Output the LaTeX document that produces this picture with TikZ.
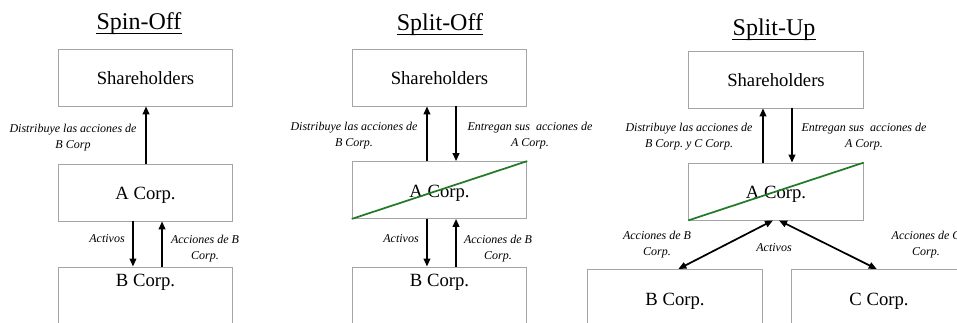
\documentclass[tikz,border=0pt]{standalone}
\usepackage{fontspec}
\setmainfont{Liberation Serif}
\usepackage{tikz}
\usetikzlibrary{arrows.meta, calc}
\definecolor{CutGreen}{RGB}{34,122,38}
\definecolor{BoxGray}{RGB}{165,165,165}
\frenchspacing

\begin{document}
\begin{tikzpicture}[x=0.75pt, y=-0.75pt,
    box/.style={draw=BoxGray, line width=0.6pt, minimum width=131pt,
                minimum height=42.75pt, inner sep=0pt, text height=12pt,
                text depth=1pt, font=\fontsize{14}{16}\selectfont},
    lowbox/.style={box, text depth=25.5pt},
    ttl/.style={inner sep=0pt, anchor=base, font=\fontsize{18}{20}\selectfont},
    lbl/.style={inner sep=0pt, align=center,
                font=\fontsize{9}{12}\selectfont\itshape},
    arr/.style={-{Triangle[length=6pt, width=5pt]}, line width=1.3pt},
    darr/.style={{Triangle[length=6pt, width=5pt]}-{Triangle[length=6pt, width=5pt]},
                 line width=1.3pt},
    cross/.style={CutGreen, line width=1.3pt}
  ]
  \useasboundingbox (0,0) rectangle (957,322);
  \clip (0,0) rectangle (957,322);

  % Titles
  \foreach \x/\y/\name/\txt in {139/29/tSpin/Spin-Off,
                                440/30/tOff/Split-Off,
                                774/35/tUp/Split-Up} {
    \node[ttl] (\name) at (\x,\y) {\txt};
    \draw[line width=0.75pt] ([yshift=-3pt]\name.base west)
                           -- ([yshift=-3pt]\name.base east);
  }

  % Spin-Off
  \node[box] (shS) at (145.5,77.5) {Shareholders};
  \node[box] (aS) at (145.5,192.5) {A Corp.};
  \node[lowbox, anchor=north] (bS) at (145.5,266.5) {B Corp.};
  \draw[arr] ([xshift=0.4pt]aS.north) -- ([xshift=0.4pt]shS.south);
  \draw[arr] ([xshift=-9.4pt]aS.south) -- ([xshift=-9.4pt]bS.north);
  \draw[arr] ([xshift=12.4pt]bS.north) -- ([xshift=12.4pt]aS.south);
  \node[lbl] (distS) at (73,138) {Distribuye las acciones de\\B Corp};
  \node[lbl] (actS) at (107,239) {Activos};
  \node[lbl] (accS) at (205,249) {Acciones de B\\Corp.};

  % Split-Off
  \node[box] (shO) at (439.5,77.5) {Shareholders};
  \node[box] (aO) at (439.5,190) {A Corp.};
  \node[lowbox, anchor=north] (bO) at (439.5,266.5) {B Corp.};
  \draw[cross] (aO.south west) -- (aO.north east);
  \draw[arr] ([xshift=-9.4pt]aO.north) -- ([xshift=-9.4pt]shO.south);
  \draw[arr] ([xshift=12.4pt]shO.south) -- ([xshift=12.4pt]aO.north);
  \draw[arr] ([xshift=-9.4pt]aO.south) -- ([xshift=-9.4pt]bO.north);
  \draw[arr] ([xshift=12.4pt]bO.north) -- ([xshift=12.4pt]aO.south);
  \node[lbl] (distO) at (354,136) {Distribuye las acciones de\\B Corp.};
  \node[lbl] (entO) at (530,136) {Entregan sus\ \ acciones de\\A Corp.};
  \node[lbl] (actO) at (401,239) {Activos};
  \node[lbl] (accO) at (498,249) {Acciones de B\\Corp.};

  % Split-Up
  \node[box] (shU) at (776,79.5) {Shareholders};
  \node[box] (aU) at (776,191.5) {A Corp.};
  \node[box, anchor=north] (bU) at (675,269) {B Corp.};
  \node[box, anchor=north] (cU) at (879,269) {C Corp.};
  \draw[cross] (aU.south west) -- (aU.north east);
  \draw[arr] ([xshift=-9.75pt]aU.north) -- ([xshift=-9.75pt]shU.south);
  \draw[arr] ([xshift=12pt]shU.south) -- ([xshift=12pt]aU.north);
  \draw[darr] ([xshift=-2.25pt]aU.south) -- ([xshift=2.5pt]bU.north);
  \draw[darr] ([xshift=2.25pt]aU.south) -- ([xshift=-1.7pt]cU.north);
  \node[lbl] (distU) at (689,137) {Distribuye las acciones de\\B Corp. y C Corp.};
  \node[lbl] (entU) at (864,137) {Entregan sus\ \ acciones de\\A Corp.};
  \node[lbl] (accBU) at (657,245) {Acciones de B\\Corp.};
  \node[lbl] (actU) at (774,248) {Activos};
  \node[lbl] (accCU) at (926,245) {Acciones de C\\Corp.};
\end{tikzpicture}
\end{document}
